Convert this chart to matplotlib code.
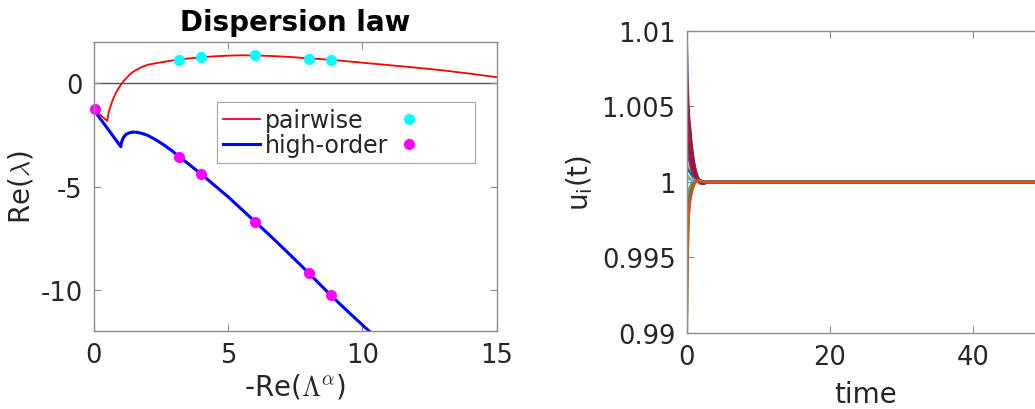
import matplotlib.pyplot as plt

# --- left panel: dispersion law ---
pair_x = [0, 0.25, 0.5, 0.52, 0.56, 0.62, 0.7, 0.8, 0.9, 1.0, 1.1, 1.2, 1.35, 1.5, 1.75,
          2.0, 2.5, 3.0, 3.5, 4.0, 4.5, 5.0, 5.5, 6.0, 6.5, 7.0, 7.5, 8.0, 8.5, 9.0,
          10.0, 11.0, 12.0, 13.0, 14.0, 15.0]
pair_y = [-1.3, -1.55, -1.82, -1.6, -1.35, -1.1, -0.8, -0.5, -0.27, -0.07, 0.1, 0.24, 0.45, 0.6, 0.77,
          0.9, 1.02, 1.12, 1.2, 1.26, 1.31, 1.34, 1.36, 1.35, 1.33, 1.3, 1.26, 1.21, 1.17, 1.12,
          1.0, 0.88, 0.76, 0.63, 0.47, 0.3]

high_x = [0, 0.5, 1.0, 1.02, 1.06, 1.12, 1.2, 1.3, 1.45, 1.6, 1.8, 2.0, 2.3, 2.6, 2.9,
          3.17, 3.5, 4.0, 4.5, 5.0, 5.5, 6.0, 6.5, 7.0, 7.5, 8.0, 8.82, 9.5, 10.25]
high_y = [-1.3, -2.18, -3.07, -2.9, -2.72, -2.58, -2.47, -2.4, -2.36, -2.37, -2.43, -2.52, -2.73, -2.98, -3.26,
          -3.55, -3.88, -4.4, -4.95, -5.5, -6.1, -6.7, -7.3, -7.92, -8.55, -9.19, -10.26, -11.1, -12.0]

dot_x = [3.17, 3.99, 6.0, 8.01, 8.82]
pair_dot_y = [1.15, 1.3, 1.35, 1.2, 1.15]
high_dot_x = [0.02, 3.17, 3.99, 6.0, 8.01, 8.82]
high_dot_y = [-1.25, -3.55, -4.4, -6.7, -9.19, -10.26]

# --- right panel: u_i(t), deviations from 1 in units of 1e-3 ---
t = [0, 0.1, 0.2, 0.3, 0.45, 0.6, 0.8, 1.0, 1.2, 1.5, 1.8, 2.2, 2.6, 3.2, 60]
dev = [
    [-4.0, -2.6, -1.8, -1.3, -0.85, -0.55, -0.28, -0.1, 0.02, 0.1, 0.08, 0.03, 0.0, 0, 0],
    [-3.0, -2.0, -1.4, -1.0, -0.65, -0.42, -0.2, -0.06, 0.03, 0.08, 0.06, 0.02, 0.0, 0, 0],
    [1.3, 1.15, 1.0, 0.9, 0.75, 0.6, 0.45, 0.3, 0.18, 0.06, -0.03, -0.07, -0.04, 0, 0],
    [9.1, 6.8, 5.2, 4.3, 3.5, 2.7, 1.9, 1.3, 0.8, 0.35, 0.05, -0.1, -0.06, 0, 0],
    [-10.5, -5.5, -3.0, -1.8, -0.9, -0.4, 0.05, 0.25, 0.32, 0.25, 0.12, 0.03, 0.0, 0, 0],
    [-1.0, -0.8, -0.65, -0.5, -0.35, -0.22, -0.1, 0.0, 0.05, 0.06, 0.04, 0.01, 0, 0, 0],
    [6.5, 5.6, 4.7, 4.0, 3.4, 2.6, 1.8, 1.2, 0.75, 0.3, 0.05, -0.1, -0.06, 0, 0],
    [0.9, 0.85, 0.8, 0.75, 0.65, 0.55, 0.42, 0.3, 0.18, 0.05, -0.08, -0.12, -0.06, 0, 0],
    [-6.0, -3.6, -2.3, -1.6, -1.0, -0.65, -0.3, -0.08, 0.06, 0.12, 0.08, 0.03, 0, 0, 0],
    [0.4, 0.38, 0.35, 0.32, 0.28, 0.24, 0.18, 0.12, 0.06, 0.0, -0.05, -0.06, -0.03, 0, 0],
    [2.5, 2.1, 1.8, 1.55, 1.3, 1.0, 0.7, 0.45, 0.25, 0.08, -0.04, -0.08, -0.04, 0, 0],
    [-2.0, -1.3, -0.9, -0.65, -0.4, -0.22, -0.05, 0.08, 0.15, 0.17, 0.1, 0.03, 0, 0, 0],
    [0.3, 0.28, 0.25, 0.22, 0.18, 0.14, 0.1, 0.06, 0.03, 0.0, -0.03, -0.04, -0.02, 0, 0],
    [3.8, 3.3, 2.8, 2.4, 2.0, 1.55, 1.1, 0.75, 0.45, 0.18, 0.0, -0.08, -0.05, 0, 0],
    [-5.0, -3.1, -2.1, -1.5, -0.95, -0.6, -0.3, -0.1, 0.02, 0.1, 0.08, 0.03, 0, 0, 0],
    [-8.7, -5.0, -3.0, -2.0, -1.3, -0.9, -0.5, -0.2, 0.0, 0.1, 0.08, 0.03, 0, 0, 0],
]

matlab_colors = ['#0072BD', '#D95319', '#EDB120', '#7E2F8E', '#77AC30', '#4DBEEE', '#A2142F']

txt = '#262626'
spine = '#8c8c8c'
plt.rcParams['font.family'] = 'DejaVu Sans'
plt.rcParams['font.size'] = 19
plt.rcParams['axes.unicode_minus'] = False

fig = plt.figure(figsize=(10.35, 4.1), dpi=100)

def style(ax):
    for s in ax.spines.values():
        s.set_color(spine)
        s.set_linewidth(1.0)
    ax.tick_params(direction='in', length=5, width=0.8, color=spine, labelcolor=txt,
                   labelsize=18.5, top=True, right=True, pad=8)

ax1 = fig.add_axes([0.0908, 0.190, 0.389, 0.705])
ax1.axhline(0, color='#555555', lw=1.0, zorder=1)
ax1.plot(pair_x, pair_y, color='red', lw=1.3, label='pairwise')
ax1.plot(high_x, high_y, color='blue', lw=2.2, label='high-order')
ax1.plot(dot_x, pair_dot_y, 'o', color='cyan', ms=7, label=' ')
ax1.plot(high_dot_x, high_dot_y, 'o', color='magenta', ms=7, label=' ', clip_on=False)
ax1.set_xlim(0, 15)
ax1.set_ylim(-12, 2)
ax1.set_xticks([0, 5, 10, 15])
ax1.set_yticks([-10, -5, 0])
style(ax1)
ax1.set_title('Dispersion law', fontsize=20, fontweight='bold', color='black', pad=9)
ax1.set_xlabel(r'-Re($\Lambda^\alpha$)', color=txt, math_fontfamily='cm', fontsize=20)
ax1.xaxis.set_label_coords(0.5, -0.14)
ax1.set_ylabel(r'Re($\lambda$)', color=txt, math_fontfamily='cm', fontsize=20)
ax1.yaxis.set_label_coords(-0.146, 0.5)
h, lab = ax1.get_legend_handles_labels()
# marker column in the reference carries no text, only some blank room
leg = ax1.legend(h, ['pairwise', 'high-order', '     ', '     '], ncol=2, loc='upper left',
                 bbox_to_anchor=(0.305, 0.792), borderaxespad=0, fontsize=17,
                 frameon=True, fancybox=False, edgecolor=spine, labelcolor=txt,
                 handlelength=1.6, handletextpad=0.17, columnspacing=0.1,
                 borderpad=0.25, labelspacing=0.05)
leg.get_frame().set_linewidth(0.8)

ax2 = fig.add_axes([0.6635, 0.1854, 0.346, 0.7366])
for i, d in enumerate(dev):
    ax2.plot(t, [1 + v / 1000 for v in d], color=matlab_colors[i % 7], lw=2)
ax2.set_xlim(0, 50)
ax2.set_ylim(0.99, 1.01)
ax2.set_xticks([0, 20, 40])
ax2.set_yticks([0.99, 0.995, 1.0, 1.005, 1.01])
ax2.set_yticklabels(['0.99', '0.995', '1', '1.005', '1.01'])
style(ax2)
ax2.set_xlabel('time', color=txt, fontsize=20)
ax2.xaxis.set_label_coords(0.5, -0.155)
ax2.set_ylabel(r'u$_\mathrm{i}$(t)', color=txt, math_fontfamily='dejavusans', fontsize=20)
ax2.yaxis.set_label_coords(-0.256, 0.5)

fig.savefig('out.png', dpi=100)
